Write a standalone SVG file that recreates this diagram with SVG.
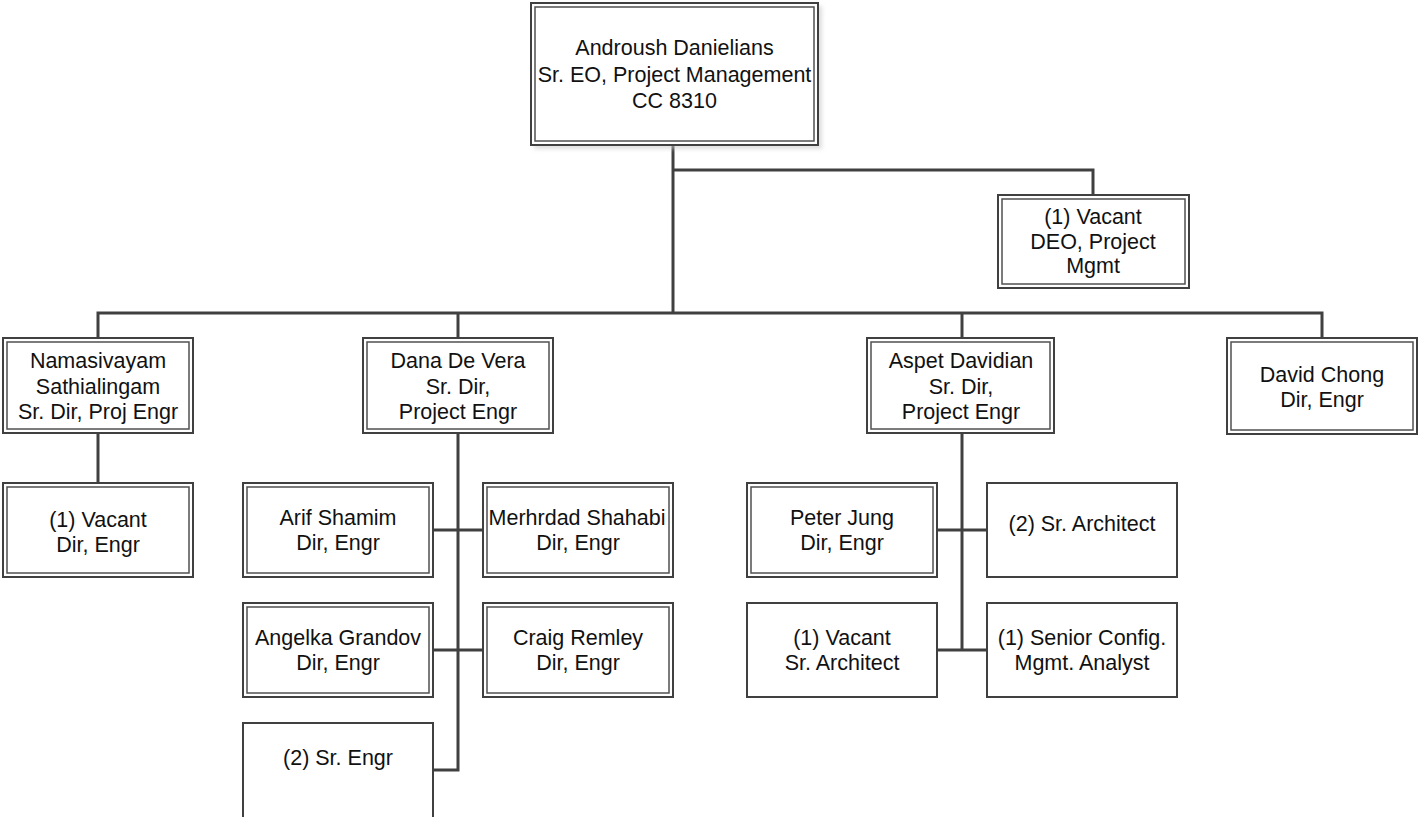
<svg xmlns="http://www.w3.org/2000/svg" width="1418" height="817" viewBox="0 0 1418 817">
<defs>
<style>
.o{fill:#fff;stroke:#404040;stroke-width:2}
.i{fill:none;stroke:#505050;stroke-width:1.5}
.s{fill:#fff;stroke:#404040;stroke-width:2}
.c{fill:none;stroke:#404040;stroke-width:3;stroke-linejoin:miter}
text{font-family:"Liberation Sans",Arial,sans-serif;font-size:21.5px;fill:#111;text-anchor:middle}
</style>
<filter id="sh" x="-10%" y="-10%" width="130%" height="130%">
<feGaussianBlur stdDeviation="2"/>
</filter>
</defs>
<rect width="1418" height="817" fill="#fff"/>
<g id="connectors">
<path class="c" d="M673 146V313"/>
<path class="c" d="M673 170H1093V194"/>
<path class="c" d="M98 337V313H1322V337"/>
<path class="c" d="M458 313V337"/>
<path class="c" d="M962 313V337"/>
<path class="c" d="M98 434V482"/>
<path class="c" d="M458 434V770H434"/>
<path class="c" d="M434 530H482"/>
<path class="c" d="M434 650H482"/>
<path class="c" d="M962 434V650"/>
<path class="c" d="M938 530H986"/>
<path class="c" d="M938 650H986"/>
</g>
<g id="n-androush">
<rect x="534" y="6" width="288" height="143" fill="#c8c8c8" opacity="0.6" filter="url(#sh)"/>
<rect class="o" x="531" y="3" width="287" height="142"/>
<rect class="i" x="535" y="7" width="279" height="134"/>
<text x="674.5" y="55">Androush Danielians</text>
<text x="674.5" y="81.5">Sr. EO, Project Management</text>
<text x="674.5" y="107.5">CC 8310</text>
</g>
<g id="n-deo">
<rect class="o" x="998" y="195" width="191" height="93"/>
<rect class="i" x="1002" y="199" width="183" height="85"/>
<text x="1093" y="223.5">(1) Vacant</text>
<text x="1093" y="248.5">DEO, Project</text>
<text x="1093" y="273">Mgmt</text>
</g>
<g id="n-namasivayam">
<rect class="o" x="3" y="338" width="190" height="95"/>
<rect class="i" x="7" y="342" width="182" height="87"/>
<text x="98" y="368">Namasivayam</text>
<text x="98" y="393.5">Sathialingam</text>
<text x="98" y="419">Sr. Dir, Proj Engr</text>
</g>
<g id="n-vacant-dir">
<rect class="o" x="3" y="483" width="190" height="94"/>
<rect class="i" x="7" y="487" width="182" height="86"/>
<text x="98" y="526.5">(1) Vacant</text>
<text x="98" y="551.5">Dir, Engr</text>
</g>
<g id="n-dana">
<rect class="o" x="363" y="338" width="190" height="95"/>
<rect class="i" x="367" y="342" width="182" height="87"/>
<text x="458" y="368">Dana De Vera</text>
<text x="458" y="393.5">Sr. Dir,</text>
<text x="458" y="419">Project Engr</text>
</g>
<g id="n-arif">
<rect class="o" x="243" y="483" width="190" height="94"/>
<rect class="i" x="247" y="487" width="182" height="86"/>
<text x="338" y="525">Arif Shamim</text>
<text x="338" y="550">Dir, Engr</text>
</g>
<g id="n-merhrdad">
<rect class="o" x="483" y="483" width="190" height="94"/>
<rect class="i" x="487" y="487" width="182" height="86"/>
<text x="577" y="525">Merhrdad Shahabi</text>
<text x="578" y="550">Dir, Engr</text>
</g>
<g id="n-angelka">
<rect class="o" x="243" y="603" width="190" height="94"/>
<rect class="i" x="247" y="607" width="182" height="86"/>
<text x="338" y="645">Angelka Grandov</text>
<text x="338" y="670">Dir, Engr</text>
</g>
<g id="n-craig">
<rect class="o" x="483" y="603" width="190" height="94"/>
<rect class="i" x="487" y="607" width="182" height="86"/>
<text x="578" y="645">Craig Remley</text>
<text x="578" y="670">Dir, Engr</text>
</g>
<g id="n-srengr">
<rect class="s" x="243" y="723" width="190" height="110"/>
<text x="338" y="765">(2) Sr. Engr</text>
</g>
<g id="n-aspet">
<rect class="o" x="867" y="338" width="187" height="95"/>
<rect class="i" x="871" y="342" width="179" height="87"/>
<text x="961" y="368">Aspet Davidian</text>
<text x="961" y="393.5">Sr. Dir,</text>
<text x="961" y="419">Project Engr</text>
</g>
<g id="n-peter">
<rect class="o" x="747" y="483" width="190" height="94"/>
<rect class="i" x="751" y="487" width="182" height="86"/>
<text x="842" y="525">Peter Jung</text>
<text x="842" y="550">Dir, Engr</text>
</g>
<g id="n-srarch">
<rect class="s" x="987" y="483" width="190" height="94"/>
<text x="1082" y="530.5">(2) Sr. Architect</text>
</g>
<g id="n-vacant-arch">
<rect class="s" x="747" y="603" width="190" height="94"/>
<text x="842" y="645">(1) Vacant</text>
<text x="842" y="670">Sr. Architect</text>
</g>
<g id="n-config">
<rect class="s" x="987" y="603" width="190" height="94"/>
<text x="1082" y="645">(1) Senior Config.</text>
<text x="1082" y="670">Mgmt. Analyst</text>
</g>
<g id="n-david">
<rect class="o" x="1227" y="338" width="190" height="96"/>
<rect class="i" x="1231" y="342" width="182" height="88"/>
<text x="1322" y="381.5">David Chong</text>
<text x="1322" y="406.5">Dir, Engr</text>
</g>
</svg>
